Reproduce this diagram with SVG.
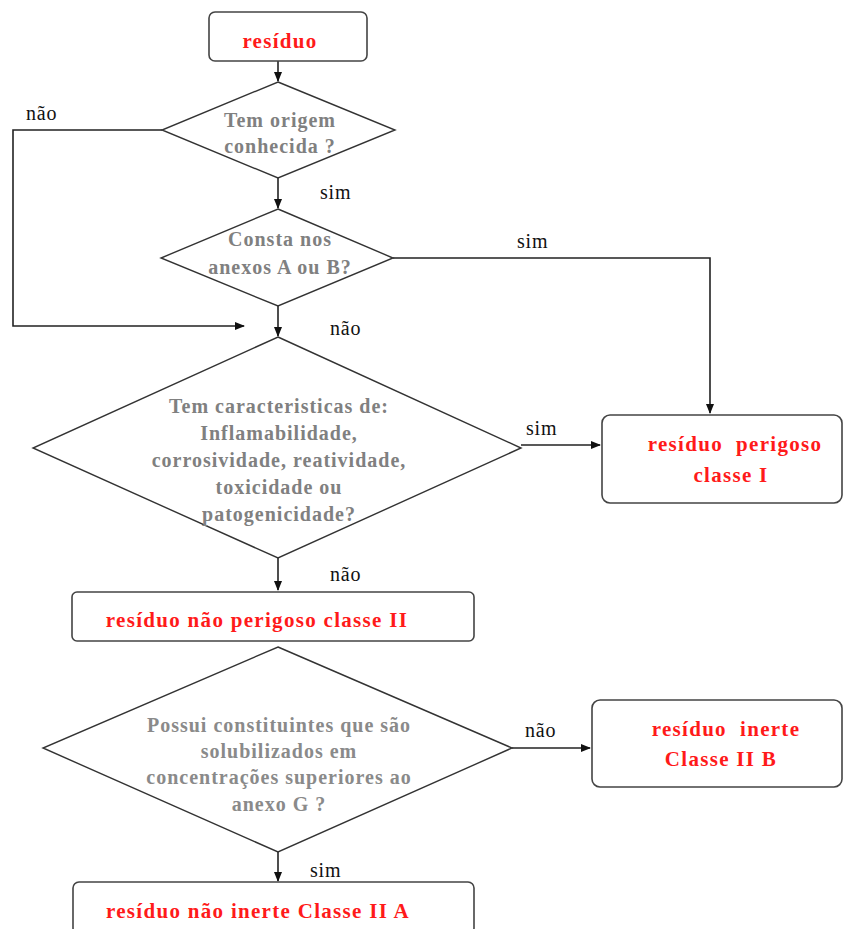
<svg xmlns="http://www.w3.org/2000/svg" width="844" height="929" viewBox="0 0 844 929">
<style>
.box{fill:#fff;stroke:#444;stroke-width:1.6}
.dia{fill:#fff;stroke:#333;stroke-width:1.4}
.red{font-family:"Liberation Serif",serif;font-weight:bold;font-size:21px;letter-spacing:1.3px;fill:#ff1a1a;text-anchor:middle}
.q{font-family:"Liberation Serif",serif;font-weight:bold;font-size:20px;letter-spacing:1px;fill:#808080;text-anchor:middle}
.q2{font-family:"Liberation Serif",serif;font-weight:bold;font-size:20px;letter-spacing:1px;fill:#8a8a8a;text-anchor:middle}
.lbl{font-family:"Liberation Serif",serif;font-size:20px;letter-spacing:0.8px;fill:#111}
.con{fill:none;stroke:#222;stroke-width:1.6}
</style>
<defs>
<marker id="ah" markerWidth="10" markerHeight="8" refX="9" refY="4" orient="auto" markerUnits="userSpaceOnUse">
<path d="M0,0 L10,4 L0,8 Z" fill="#111"/>
</marker>
</defs>
<rect width="844" height="929" fill="#fff"/>

<g id="connectors">
<line class="con" x1="278" y1="61" x2="278" y2="81" marker-end="url(#ah)"/>
<line class="con" x1="278" y1="178" x2="278" y2="208" marker-end="url(#ah)"/>
<polyline class="con" points="162,130 13,130 13,326 244,326" marker-end="url(#ah)"/>
<polyline class="con" points="393,258 710,258 710,413" marker-end="url(#ah)"/>
<line class="con" x1="278" y1="306" x2="278" y2="336" marker-end="url(#ah)"/>
<line class="con" x1="521" y1="445" x2="600" y2="445" marker-end="url(#ah)"/>
<line class="con" x1="278" y1="558" x2="278" y2="590" marker-end="url(#ah)"/>
<line class="con" x1="512" y1="748" x2="590" y2="748" marker-end="url(#ah)"/>
<line class="con" x1="278" y1="852" x2="278" y2="881" marker-end="url(#ah)"/>
<text class="lbl" x="26" y="120">não</text>
<text class="lbl" x="320" y="199">sim</text>
<text class="lbl" x="517" y="248">sim</text>
<text class="lbl" x="330" y="335">não</text>
<text class="lbl" x="526" y="435">sim</text>
<text class="lbl" x="330" y="581">não</text>
<text class="lbl" x="525" y="737">não</text>
<text class="lbl" x="310" y="877">sim</text>
</g>

<g id="n-residuo">
<rect class="box" x="209" y="12" width="158" height="49" rx="6"/>
<text class="red" x="280" y="48">resíduo</text>
</g>

<g id="d-origem">
<polygon class="dia" points="278,82 395,130 278,178 162,130"/>
<text class="q" x="280" y="127">Tem origem</text>
<text class="q" x="280" y="153">conhecida ?</text>
</g>

<g id="d-anexos">
<polygon class="dia" points="278,209 393,258 278,306 161,258"/>
<text class="q" x="280" y="246">Consta nos</text>
<text class="q" x="280" y="274">anexos A ou B?</text>
</g>

<g id="d-caracteristicas">
<polygon class="dia" points="278,337 521,448 278,558 33,448"/>
<text class="q" x="279" y="413">Tem caracteristicas de:</text>
<text class="q" x="279" y="440">Inflamabilidade,</text>
<text class="q" x="279" y="467">corrosividade, reatividade,</text>
<text class="q" x="279" y="494">toxicidade ou</text>
<text class="q" x="279" y="521">patogenicidade?</text>
</g>

<g id="n-perigoso">
<rect class="box" x="602" y="415" width="240" height="88" rx="8"/>
<text class="red" x="735" y="451" xml:space="preserve">resíduo  perigoso</text>
<text class="red" x="731" y="482">classe I</text>
</g>

<g id="n-naoperigoso">
<rect class="box" x="72" y="592" width="402" height="49" rx="5"/>
<text class="red" x="257" y="627">resíduo não perigoso classe II</text>
</g>

<g id="d-solubilizados">
<polygon class="dia" points="278,647 512,748 278,852 43,748"/>
<text class="q2" x="279" y="732">Possui constituintes que são</text>
<text class="q2" x="279" y="758">solubilizados em</text>
<text class="q2" x="279" y="784">concentrações superiores ao</text>
<text class="q2" x="279" y="811">anexo G ?</text>
</g>

<g id="n-inerte">
<rect class="box" x="592" y="700" width="250" height="87" rx="8"/>
<text class="red" x="726" y="736" xml:space="preserve">resíduo  inerte</text>
<text class="red" x="721" y="766">Classe II B</text>
</g>

<g id="n-naoinerte">
<rect class="box" x="73" y="882" width="401" height="52" rx="6"/>
<text class="red" x="258" y="918">resíduo não inerte Classe II A</text>
</g>
</svg>
